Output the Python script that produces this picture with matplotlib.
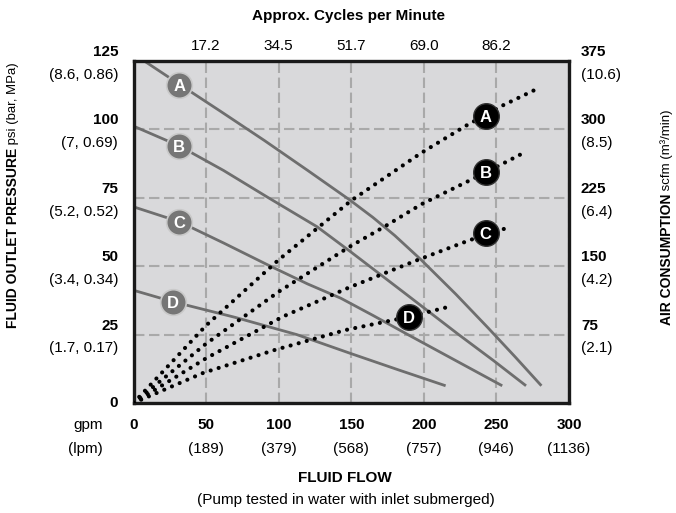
import matplotlib
matplotlib.use("Agg")
import matplotlib.pyplot as plt

# flow axis (gpm) with lpm below, cycles on top
flow_ticks = [0, 50, 100, 150, 200, 250, 300]
flow_lpm = ["", "(189)", "(379)", "(568)", "(757)", "(946)", "(1136)"]
cycle_pos = [50, 100, 150, 200, 250]
cycle_labels = ["17.2", "34.5", "51.7", "69.0", "86.2"]

# pressure axis (psi) and air axis (scfm)
psi_ticks = [0, 25, 50, 75, 100, 125]
psi_sub = ["", "(1.7, 0.17)", "(3.4, 0.34)", "(5.2, 0.52)", "(7, 0.69)", "(8.6, 0.86)"]
scfm_ticks = [75, 150, 225, 300, 375]
scfm_sub = ["(2.1)", "(4.2)", "(6.4)", "(8.5)", "(10.6)"]

# fluid outlet pressure curves, psi vs gpm
pA_x = [6, 31.6, 60, 90, 120, 149, 165, 180, 198, 222, 244, 263, 281]
pA_y = [125.5, 116.5, 106.6, 96, 85, 74.2, 67.8, 61.2, 52.4, 39.8, 27.6, 16.8, 6.3]
pB_x = [0, 31.4, 62, 93, 126.5, 149.5, 186, 224, 248, 270.4]
pB_y = [101.2, 94.0, 85, 75, 64.4, 55.3, 40.5, 25, 15.5, 6.3]
pC_x = [0, 31.4, 62, 94.3, 120, 142.8, 165, 189, 222, 254]
pC_y = [71.7, 66.3, 58.5, 50, 43.5, 38.3, 32, 25, 15.5, 6.3]
pD_x = [0, 27.3, 70, 112.5, 149.6, 182, 215]
pD_y = [41.2, 37.0, 31.3, 25, 18.1, 12.2, 6.3]

# air consumption curves, scfm vs gpm
aA_x = [0, 50, 100, 150, 198, 229, 254, 280]
aA_y = [0, 85, 157, 222, 274, 304, 326, 346]
aB_x = [0, 50, 100, 148.5, 172.5, 198.4, 243, 269]
aB_y = [0, 65, 122, 171, 193, 218, 253, 274.5]
aC_x = [0, 50, 102.7, 149, 196, 229, 243, 256.5]
aC_y = [0, 49, 94.6, 127, 157, 177, 185, 191.5]
aD_x = [0, 48, 97, 146, 190, 216]
aD_y = [0, 33, 58, 80, 94.6, 105]

letters = ["A", "B", "C", "D"]
lab_p_x = [31.4, 31.4, 31.4, 27.3]
lab_p_y = [116.4, 94.0, 66.3, 37.0]
lab_a_x = [242.5, 242.5, 242.5, 189.8]
lab_a_y = [315, 253, 186, 94.6]

plt.rcParams["font.family"] = ["Liberation Sans", "DejaVu Sans"]

BG = "#d9d9db"
CURVE = "#6e6e6e"
GRID = "#a9a9a9"

fig = plt.figure(figsize=(6.76, 5.13), dpi=100)
ax = fig.add_axes([133.5 / 676, 1 - 403 / 513, 435.5 / 676, 342 / 513])
ax.set_facecolor(BG)
ax.set_xlim(0, 300)
ax.set_ylim(0, 125)
ax.set_xticks(flow_ticks)
ax.set_yticks(psi_ticks)
ax.tick_params(length=0, labelbottom=False, labelleft=False)
ax.grid(True, color=GRID, linestyle=(0, (5, 2.2)), linewidth=1.5)
ax.set_axisbelow(True)
for s in ax.spines.values():
    s.set_linewidth(2.4)
    s.set_color("#1a1a1a")
    s.set_zorder(10)

ax2 = ax.twinx()
ax2.set_ylim(0, 375)
ax2.set_yticks([])
ax2.patch.set_visible(False)
for s in ax2.spines.values():
    s.set_visible(False)

# solid pressure curves
for xs, ys in [(pA_x, pA_y), (pB_x, pB_y), (pC_x, pC_y), (pD_x, pD_y)]:
    ax.plot(xs, ys, color=CURVE, lw=2.0, solid_capstyle="butt",
            solid_joinstyle="round", zorder=3)

# dotted air curves
for xs, ys in [(aA_x, aA_y), (aB_x, aB_y), (aC_x, aC_y), (aD_x, aD_y)]:
    ax2.plot(xs, ys, color="black", lw=3.0, linestyle=(0, (0.01, 2.0)),
             dash_capstyle="round", zorder=3)

# curve labels
for lx, ly, t in zip(lab_p_x, lab_p_y, letters):
    ax.scatter(lx, ly, s=340, color="#767676", edgecolor="#c9c9c9", linewidth=1.2, zorder=5)
    ax.text(lx, ly, t, color="white", fontsize=12, fontweight="bold",
            ha="center", va="center_baseline", zorder=6)
for lx, ly, t in zip(lab_a_x, lab_a_y, letters):
    ax2.scatter(lx, ly, s=340, color="black", edgecolor="#333333", linewidth=1, zorder=5)
    ax2.text(lx, ly, t, color="white", fontsize=12, fontweight="bold",
             ha="center", va="center_baseline", zorder=6)

FS = 11
# left tick labels
for v, sub in zip(psi_ticks, psi_sub):
    if v == 0:
        ax.annotate("0", xy=(0, v), xycoords=("axes fraction", "data"), xytext=(-11, 0),
                    textcoords="offset points", ha="right", va="center",
                    fontsize=FS, fontweight="bold")
        continue
    ax.annotate(str(v), xy=(0, v), xycoords=("axes fraction", "data"), xytext=(-11, 6.5),
                textcoords="offset points", ha="right", va="center",
                fontsize=FS, fontweight="bold")
    ax.annotate(sub, xy=(0, v), xycoords=("axes fraction", "data"), xytext=(-11, -10),
                textcoords="offset points", ha="right", va="center", fontsize=FS)

# right tick labels
for v, sub in zip(scfm_ticks, scfm_sub):
    ax2.annotate(str(v), xy=(1, v), xycoords=("axes fraction", "data"), xytext=(8.6, 6.5),
                 textcoords="offset points", ha="left", va="center",
                 fontsize=FS, fontweight="bold")
    ax2.annotate(sub, xy=(1, v), xycoords=("axes fraction", "data"), xytext=(8.6, -10),
                 textcoords="offset points", ha="left", va="center", fontsize=FS)

# bottom tick labels
for v, sub in zip(flow_ticks, flow_lpm):
    ax.annotate(str(v), xy=(v, 0), xycoords=("data", "axes fraction"), xytext=(0, -16),
                textcoords="offset points", ha="center", va="center",
                fontsize=FS, fontweight="bold")
    if sub:
        ax.annotate(sub, xy=(v, 0), xycoords=("data", "axes fraction"), xytext=(0, -33),
                    textcoords="offset points", ha="center", va="center", fontsize=FS)
ax.annotate("gpm", xy=(0, 0), xycoords="axes fraction", xytext=(-22, -16),
            textcoords="offset points", ha="right", va="center", fontsize=FS)
ax.annotate("(lpm)", xy=(0, 0), xycoords="axes fraction", xytext=(-22, -33),
            textcoords="offset points", ha="right", va="center", fontsize=FS)

# top cycles labels
for v, lab in zip(cycle_pos, cycle_labels):
    ax.annotate(lab, xy=(v, 1), xycoords=("data", "axes fraction"), xytext=(0, 10.8),
                textcoords="offset points", ha="center", va="center", fontsize=FS)

fig.text(349 / 676, 1 - 16 / 513, "Approx. Cycles per Minute", ha="center", va="center",
         fontsize=FS, fontweight="bold")
fig.text(345 / 676, 1 - 478 / 513, "FLUID FLOW", ha="center", va="center",
         fontsize=FS, fontweight="bold")
fig.text(346 / 676, 1 - 500 / 513, "(Pump tested in water with inlet submerged)",
         ha="center", va="center", fontsize=FS)

# axis titles, bold part then regular part
t1 = fig.text(13 / 676, 1 - 328 / 513, "FLUID OUTLET PRESSURE", rotation=90,
              ha="center", va="bottom", fontsize=10, fontweight="bold")
ax.annotate(" psi (bar, MPa)", xy=(0.5, 1), xycoords=t1, ha="center", va="bottom",
            rotation=90, fontsize=9.5, annotation_clip=False)
t2 = fig.text(667 / 676, 1 - 325 / 513, "AIR CONSUMPTION", rotation=90,
              ha="center", va="bottom", fontsize=10, fontweight="bold")
ax.annotate(" scfm (m³/min)", xy=(0.5, 1), xycoords=t2, ha="center", va="bottom",
            rotation=90, fontsize=9.5, annotation_clip=False)

fig.savefig("out.png", dpi=100)
